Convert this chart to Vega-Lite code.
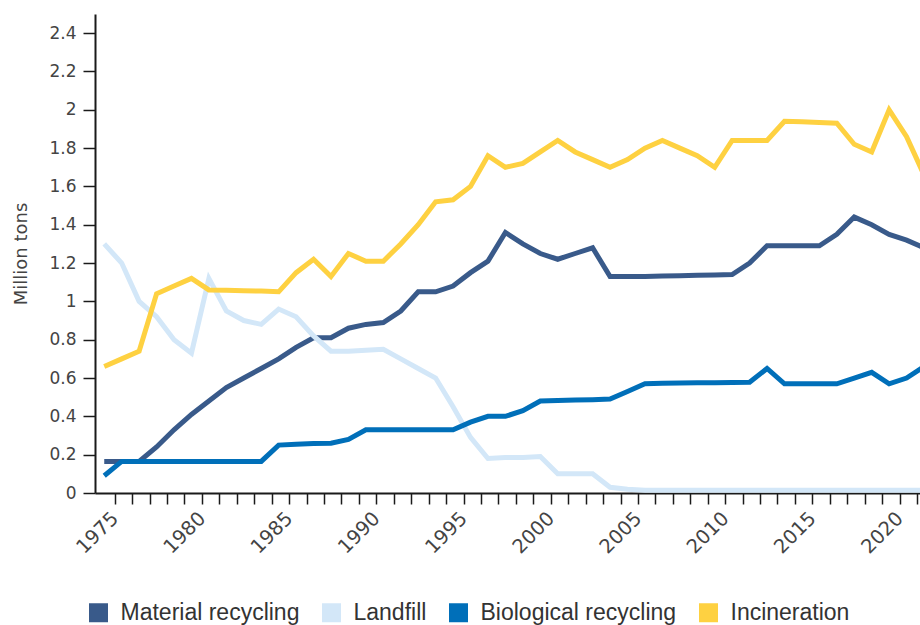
{
  "$schema": "https://vega.github.io/schema/vega-lite/v6.json",
  "width": 825,
  "height": 479,
  "autosize": {"type": "none"},
  "padding": {"left": 95, "top": 14, "right": 0, "bottom": 132},
  "background": "white",
  "config": {"view": {"stroke": null}},
  "datasets": {
    "rows": [
      {"series":"Material recycling","year":1975,"value":0.165},{"series":"Material recycling","year":1976,"value":0.165},{"series":"Material recycling","year":1977,"value":0.165},{"series":"Material recycling","year":1978,"value":0.24},{"series":"Material recycling","year":1979,"value":0.33},{"series":"Material recycling","year":1980,"value":0.41},{"series":"Material recycling","year":1981,"value":0.48},{"series":"Material recycling","year":1982,"value":0.55},{"series":"Material recycling","year":1983,"value":0.6},{"series":"Material recycling","year":1984,"value":0.65},{"series":"Material recycling","year":1985,"value":0.7},{"series":"Material recycling","year":1986,"value":0.76},{"series":"Material recycling","year":1987,"value":0.81},{"series":"Material recycling","year":1988,"value":0.81},{"series":"Material recycling","year":1989,"value":0.86},{"series":"Material recycling","year":1990,"value":0.88},{"series":"Material recycling","year":1991,"value":0.89},{"series":"Material recycling","year":1992,"value":0.95},{"series":"Material recycling","year":1993,"value":1.05},{"series":"Material recycling","year":1994,"value":1.05},{"series":"Material recycling","year":1995,"value":1.08},{"series":"Material recycling","year":1996,"value":1.15},{"series":"Material recycling","year":1997,"value":1.21},{"series":"Material recycling","year":1998,"value":1.36},{"series":"Material recycling","year":1999,"value":1.3},{"series":"Material recycling","year":2000,"value":1.25},{"series":"Material recycling","year":2001,"value":1.22},{"series":"Material recycling","year":2002,"value":1.25},{"series":"Material recycling","year":2003,"value":1.28},{"series":"Material recycling","year":2004,"value":1.13},{"series":"Material recycling","year":2005,"value":1.13},{"series":"Material recycling","year":2006,"value":1.13},{"series":"Material recycling","year":2007,"value":1.132},{"series":"Material recycling","year":2008,"value":1.134},{"series":"Material recycling","year":2009,"value":1.136},{"series":"Material recycling","year":2010,"value":1.138},{"series":"Material recycling","year":2011,"value":1.14},{"series":"Material recycling","year":2012,"value":1.2},{"series":"Material recycling","year":2013,"value":1.29},{"series":"Material recycling","year":2014,"value":1.29},{"series":"Material recycling","year":2015,"value":1.29},{"series":"Material recycling","year":2016,"value":1.29},{"series":"Material recycling","year":2017,"value":1.35},{"series":"Material recycling","year":2018,"value":1.44},{"series":"Material recycling","year":2019,"value":1.4},{"series":"Material recycling","year":2020,"value":1.35},{"series":"Material recycling","year":2021,"value":1.32},{"series":"Material recycling","year":2022,"value":1.28},
      {"series":"Landfill","year":1975,"value":1.3},{"series":"Landfill","year":1976,"value":1.2},{"series":"Landfill","year":1977,"value":1.0},{"series":"Landfill","year":1978,"value":0.92},{"series":"Landfill","year":1979,"value":0.8},{"series":"Landfill","year":1980,"value":0.73},{"series":"Landfill","year":1981,"value":1.12},{"series":"Landfill","year":1982,"value":0.95},{"series":"Landfill","year":1983,"value":0.9},{"series":"Landfill","year":1984,"value":0.88},{"series":"Landfill","year":1985,"value":0.96},{"series":"Landfill","year":1986,"value":0.92},{"series":"Landfill","year":1987,"value":0.82},{"series":"Landfill","year":1988,"value":0.74},{"series":"Landfill","year":1989,"value":0.74},{"series":"Landfill","year":1990,"value":0.745},{"series":"Landfill","year":1991,"value":0.75},{"series":"Landfill","year":1992,"value":0.7},{"series":"Landfill","year":1993,"value":0.65},{"series":"Landfill","year":1994,"value":0.6},{"series":"Landfill","year":1995,"value":0.45},{"series":"Landfill","year":1996,"value":0.29},{"series":"Landfill","year":1997,"value":0.18},{"series":"Landfill","year":1998,"value":0.185},{"series":"Landfill","year":1999,"value":0.185},{"series":"Landfill","year":2000,"value":0.19},{"series":"Landfill","year":2001,"value":0.1},{"series":"Landfill","year":2002,"value":0.1},{"series":"Landfill","year":2003,"value":0.1},{"series":"Landfill","year":2004,"value":0.03},{"series":"Landfill","year":2005,"value":0.02},{"series":"Landfill","year":2006,"value":0.015},{"series":"Landfill","year":2007,"value":0.015},{"series":"Landfill","year":2008,"value":0.015},{"series":"Landfill","year":2009,"value":0.015},{"series":"Landfill","year":2010,"value":0.015},{"series":"Landfill","year":2011,"value":0.015},{"series":"Landfill","year":2012,"value":0.015},{"series":"Landfill","year":2013,"value":0.015},{"series":"Landfill","year":2014,"value":0.015},{"series":"Landfill","year":2015,"value":0.015},{"series":"Landfill","year":2016,"value":0.015},{"series":"Landfill","year":2017,"value":0.015},{"series":"Landfill","year":2018,"value":0.015},{"series":"Landfill","year":2019,"value":0.015},{"series":"Landfill","year":2020,"value":0.015},{"series":"Landfill","year":2021,"value":0.015},{"series":"Landfill","year":2022,"value":0.015},
      {"series":"Biological recycling","year":1975,"value":0.09},{"series":"Biological recycling","year":1976,"value":0.165},{"series":"Biological recycling","year":1977,"value":0.165},{"series":"Biological recycling","year":1978,"value":0.165},{"series":"Biological recycling","year":1979,"value":0.165},{"series":"Biological recycling","year":1980,"value":0.165},{"series":"Biological recycling","year":1981,"value":0.165},{"series":"Biological recycling","year":1982,"value":0.165},{"series":"Biological recycling","year":1983,"value":0.165},{"series":"Biological recycling","year":1984,"value":0.165},{"series":"Biological recycling","year":1985,"value":0.25},{"series":"Biological recycling","year":1986,"value":0.255},{"series":"Biological recycling","year":1987,"value":0.258},{"series":"Biological recycling","year":1988,"value":0.26},{"series":"Biological recycling","year":1989,"value":0.28},{"series":"Biological recycling","year":1990,"value":0.33},{"series":"Biological recycling","year":1991,"value":0.33},{"series":"Biological recycling","year":1992,"value":0.33},{"series":"Biological recycling","year":1993,"value":0.33},{"series":"Biological recycling","year":1994,"value":0.33},{"series":"Biological recycling","year":1995,"value":0.33},{"series":"Biological recycling","year":1996,"value":0.37},{"series":"Biological recycling","year":1997,"value":0.4},{"series":"Biological recycling","year":1998,"value":0.4},{"series":"Biological recycling","year":1999,"value":0.43},{"series":"Biological recycling","year":2000,"value":0.48},{"series":"Biological recycling","year":2001,"value":0.483},{"series":"Biological recycling","year":2002,"value":0.485},{"series":"Biological recycling","year":2003,"value":0.487},{"series":"Biological recycling","year":2004,"value":0.49},{"series":"Biological recycling","year":2005,"value":0.53},{"series":"Biological recycling","year":2006,"value":0.57},{"series":"Biological recycling","year":2007,"value":0.573},{"series":"Biological recycling","year":2008,"value":0.574},{"series":"Biological recycling","year":2009,"value":0.575},{"series":"Biological recycling","year":2010,"value":0.576},{"series":"Biological recycling","year":2011,"value":0.577},{"series":"Biological recycling","year":2012,"value":0.578},{"series":"Biological recycling","year":2013,"value":0.65},{"series":"Biological recycling","year":2014,"value":0.57},{"series":"Biological recycling","year":2015,"value":0.57},{"series":"Biological recycling","year":2016,"value":0.57},{"series":"Biological recycling","year":2017,"value":0.57},{"series":"Biological recycling","year":2018,"value":0.6},{"series":"Biological recycling","year":2019,"value":0.63},{"series":"Biological recycling","year":2020,"value":0.57},{"series":"Biological recycling","year":2021,"value":0.6},{"series":"Biological recycling","year":2022,"value":0.66},
      {"series":"Incineration","year":1975,"value":0.66},{"series":"Incineration","year":1976,"value":0.7},{"series":"Incineration","year":1977,"value":0.74},{"series":"Incineration","year":1978,"value":1.04},{"series":"Incineration","year":1979,"value":1.08},{"series":"Incineration","year":1980,"value":1.12},{"series":"Incineration","year":1981,"value":1.06},{"series":"Incineration","year":1982,"value":1.058},{"series":"Incineration","year":1983,"value":1.056},{"series":"Incineration","year":1984,"value":1.054},{"series":"Incineration","year":1985,"value":1.05},{"series":"Incineration","year":1986,"value":1.15},{"series":"Incineration","year":1987,"value":1.22},{"series":"Incineration","year":1988,"value":1.13},{"series":"Incineration","year":1989,"value":1.25},{"series":"Incineration","year":1990,"value":1.21},{"series":"Incineration","year":1991,"value":1.21},{"series":"Incineration","year":1992,"value":1.3},{"series":"Incineration","year":1993,"value":1.4},{"series":"Incineration","year":1994,"value":1.52},{"series":"Incineration","year":1995,"value":1.53},{"series":"Incineration","year":1996,"value":1.6},{"series":"Incineration","year":1997,"value":1.76},{"series":"Incineration","year":1998,"value":1.7},{"series":"Incineration","year":1999,"value":1.72},{"series":"Incineration","year":2000,"value":1.78},{"series":"Incineration","year":2001,"value":1.84},{"series":"Incineration","year":2002,"value":1.78},{"series":"Incineration","year":2003,"value":1.74},{"series":"Incineration","year":2004,"value":1.7},{"series":"Incineration","year":2005,"value":1.74},{"series":"Incineration","year":2006,"value":1.8},{"series":"Incineration","year":2007,"value":1.84},{"series":"Incineration","year":2008,"value":1.8},{"series":"Incineration","year":2009,"value":1.76},{"series":"Incineration","year":2010,"value":1.7},{"series":"Incineration","year":2011,"value":1.84},{"series":"Incineration","year":2012,"value":1.84},{"series":"Incineration","year":2013,"value":1.84},{"series":"Incineration","year":2014,"value":1.94},{"series":"Incineration","year":2015,"value":1.937},{"series":"Incineration","year":2016,"value":1.934},{"series":"Incineration","year":2017,"value":1.93},{"series":"Incineration","year":2018,"value":1.82},{"series":"Incineration","year":2019,"value":1.78},{"series":"Incineration","year":2020,"value":2.0},{"series":"Incineration","year":2021,"value":1.86},{"series":"Incineration","year":2022,"value":1.66}
    ]
  },
  "data": {"name": "rows"},
  "mark": {"type": "line", "strokeWidth": 5, "clip": true, "strokeJoin": "miter"},
  "encoding": {
    "x": {
      "field": "year",
      "type": "quantitative",
      "scale": {"domain": [1974.47, 2021.77], "nice": false, "zero": false},
      "axis": {
        "title": null,
        "values": [1975.6,1976.6,1977.6,1978.6,1979.6,1980.6,1981.6,1982.6,1983.6,1984.6,1985.6,1986.6,1987.6,1988.6,1989.6,1990.6,1991.6,1992.6,1993.6,1994.6,1995.6,1996.6,1997.6,1998.6,1999.6,2000.6,2001.6,2002.6,2003.6,2004.6,2005.6,2006.6,2007.6,2008.6,2009.6,2010.6,2011.6,2012.6,2013.6,2014.6,2015.6,2016.6,2017.6,2018.6,2019.6,2020.6,2021.6],
        "labelExpr": "round(datum.value - 0.6) % 5 === 0 ? toString(round(datum.value - 0.6)) : ''",
        "labelOverlap": false,
        "labelAngle": -45,
        "labelAlign": "right",
        "labelBaseline": "middle",
        "labelDx": -6.7,
        "labelDy": -6.7,
        "labelFont": "DejaVu Sans",
        "labelFontSize": 19.5,
        "labelColor": "#444444",
        "labelPadding": 11,
        "tickSize": 11,
        "tickWidth": 1.5,
        "tickColor": "#1a1a1a",
        "domainColor": "#1a1a1a",
        "domainWidth": 2,
        "grid": false
      }
    },
    "y": {
      "field": "value",
      "type": "quantitative",
      "scale": {"domain": [0, 2.5], "nice": false},
      "axis": {
        "title": "Million tons",
        "titleFont": "DejaVu Sans",
        "titleFontSize": 18,
        "titleFontWeight": "normal",
        "titleColor": "#444444",
        "titlePadding": 18,
        "values": [0,0.2,0.4,0.6,0.8,1,1.2,1.4,1.6,1.8,2,2.2,2.4],
        "format": ".1~f",
        "labelFont": "DejaVu Sans",
        "labelFontSize": 17,
        "labelColor": "#444444",
        "labelPadding": 7,
        "tickSize": 12,
        "tickWidth": 1.5,
        "tickColor": "#1a1a1a",
        "domainColor": "#1a1a1a",
        "domainWidth": 2,
        "grid": false
      }
    },
    "color": {
      "field": "series",
      "type": "nominal",
      "scale": {
        "domain": ["Material recycling", "Landfill", "Biological recycling", "Incineration"],
        "range": ["#395a8a", "#d3e7f8", "#006fb9", "#fed141"]
      },
      "legend": {
        "title": null,
        "orient": "none",
        "direction": "horizontal",
        "legendX": -8,
        "legendY": 587,
        "symbolType": "square",
        "symbolSize": 361,
        "symbolStrokeWidth": 0,
        "labelFont": "Liberation Sans",
        "labelFontSize": 23,
        "labelColor": "#333333",
        "labelOffset": 10.5,
        "labelLimit": 300,
        "columnPadding": 20,
        "encode": {
          "symbols": {
            "update": {
              "fill": {"scale": "color", "field": "value"},
              "fillOpacity": {"value": 1},
              "strokeWidth": {"value": 0}
            }
          }
        }
      }
    }
  }
}
